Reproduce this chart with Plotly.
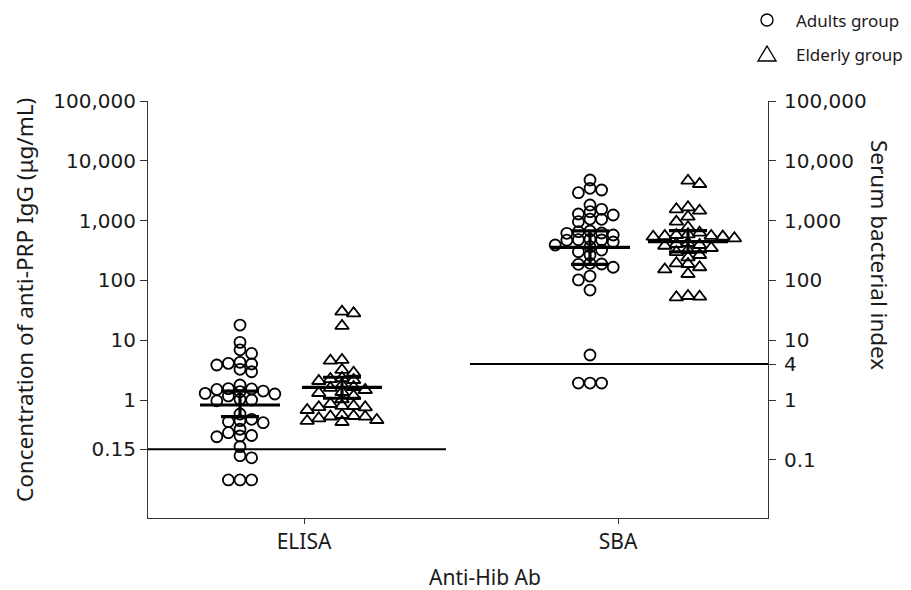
import numpy as np
import plotly.graph_objects as go

# ---------------- data ----------------
methods = ["ELISA", "SBA"]
groups = ["Adults group", "Elderly group"]

elisa_adults = [17.9, 9.2, 6.9, 6.0, 4.1, 3.85, 2.97, 3.26, 4.0, 4.27,
                1.41, 1.29, 1.78, 1.17, 1.53, 1.50, 1.55, 1.26, 1.38, 1.0,
                0.97, 1.03, 0.475, 0.583, 0.434, 0.417, 0.451, 0.324, 0.25,
                0.243, 0.255, 0.284, 0.166, 0.117, 0.108, 0.046, 0.046, 0.046]
elisa_elderly = [30.0, 28.2, 17.3, 4.67, 4.54, 3.18, 2.86, 2.33, 2.24, 2.16,
                 2.08, 1.78, 1.65, 1.59, 1.47, 1.36, 1.31, 1.17, 1.03, 0.857,
                 0.794, 0.80, 0.755, 0.76, 0.68, 0.561, 0.54, 0.526, 0.53,
                 0.494, 0.463, 0.446, 0.429]
sba_adults = [4775, 3250, 2930, 3470, 1824, 1241, 1052, 960, 1060, 1289,
              1409, 1545, 613, 652, 620, 574, 670, 474, 487, 480, 366, 302,
              391, 470, 439, 322, 266, 193, 188, 166, 186, 102, 118, 69,
              5.66, 1.92, 1.92, 1.92]
sba_elderly = [4093, 4645, 1465, 1669, 1545, 1162, 960, 773, 628, 574, 552,
               538, 506, 540, 555, 590, 391, 406, 243, 266, 188, 153, 128,
               166, 193, 53.4, 52.2, 54.8, 380, 422, 348, 322, 298]

# geometric mean with 95% CI: ELISA adults, ELISA elderly, SBA adults, SBA elderly
gm_center = [0.825, 1.63, 356, 444]
ci_low = [0.526, 1.07, 186, 301]
ci_high = [1.41, 2.4, 673, 679]

thresholds = [0.15, 4]

left_tickvals = [100000, 10000, 1000, 100, 10, 1, 0.15]
left_ticktext = ["100,000", "10,000", "1,000", "100", "10", "1", "0.15"]
right_tickvals = [100000, 10000, 1000, 100, 10, 4, 1, 0.1]
right_ticktext = ["100,000", "10,000", "1,000", "100", "10", "4", "1", "0.1"]

# ---------------- geometry (page pixels) ----------------
PAGE_W, PAGE_H = 911, 590
OFF = 8                      # default body margin of the html page
W, H = PAGE_W - OFF, PAGE_H - OFF
PLOT_L, PLOT_R, PLOT_T, PLOT_B = 148, 768, 101, 518   # page coords
L, T = PLOT_L - OFF, PLOT_T - OFF
R, B = PAGE_W - PLOT_R, PAGE_H - PLOT_B
PW, PH = PLOT_R - PLOT_L, PLOT_B - PLOT_T
Y_TOP = 5.0
PX_DEC = 59.8
Y_BOT = Y_TOP - PH / PX_DEC
TICK_PX = [304, 618]
PX_UNIT = (TICK_PX[1] - TICK_PX[0])
X_MIN = 1 - (TICK_PX[0] - PLOT_L) / PX_UNIT
X_MAX = 2 + (PLOT_R - TICK_PX[1]) / PX_UNIT
GROUP_PX = [240, 342, 590, 688]
FONT = "Noto Sans"
NUM_FONT = "DejaVu Sans"


def px2x(px):
    return 1 + (px - TICK_PX[0]) / PX_UNIT


def swarm(values, dx_min=11.6, dy_min=6.5):
    ypx = -np.log10(np.asarray(values, dtype=float)) * PX_DEC
    order = np.argsort(ypx, kind="stable")
    placed = []
    xs = np.zeros(len(values))
    flip = 1
    for i in order:
        y = ypx[i]
        cands = [0.0]
        for (px, py) in placed:
            if abs(py - y) < dy_min:
                cands += [px - dx_min, px + dx_min]
        cands.sort(key=lambda c: (round(abs(c), 3), -flip * c))
        for c in cands:
            if all(not (abs(c - px) < dx_min - 1e-6 and abs(y - py) < dy_min)
                   for px, py in placed):
                xs[i] = c
                break
        if xs[i] != 0:
            flip = -flip
        placed.append((xs[i], y))
    return xs / PX_UNIT


fig = go.Figure()

series = [(elisa_adults, "circle-open", 11),
          (elisa_elderly, "triangle-up-open", 12),
          (sba_adults, "circle-open", 11),
          (sba_elderly, "triangle-up-open", 12)]
centers = [px2x(p) for p in GROUP_PX]

for (vals, sym, sz), cx in zip(series, centers):
    xs = cx + swarm(vals)
    fig.add_trace(go.Scatter(
        x=xs, y=vals, mode="markers", showlegend=False,
        marker=dict(symbol=sym, size=sz, color="black", line=dict(width=1.8, color="black")),
        hoverinfo="skip"))

# mean and CI bars
hw = 40 / PX_UNIT
cw = 19 / PX_UNIT
bx, by = [], []
for cx, m, lo, hi in zip(centers, gm_center, ci_low, ci_high):
    bx += [cx - hw, cx + hw, None, cx, cx, None, cx - cw, cx + cw, None, cx - cw, cx + cw, None]
    by += [m, m, None, lo, hi, None, lo, lo, None, hi, hi, None]
fig.add_trace(go.Scatter(x=bx, y=by, mode="lines", line=dict(color="black", width=3.2),
                         showlegend=False, hoverinfo="skip"))

# threshold lines
fig.add_trace(go.Scatter(x=[X_MIN, px2x(446)], y=[thresholds[0]] * 2, mode="lines",
                         line=dict(color="black", width=1.8), showlegend=False, hoverinfo="skip"))
fig.add_trace(go.Scatter(x=[px2x(470), X_MAX], y=[thresholds[1]] * 2, mode="lines",
                         line=dict(color="black", width=2.2), showlegend=False, hoverinfo="skip",
                         yaxis="y2"))

tick_font = dict(family=NUM_FONT, size=20, color="#1a1a1a")
common_y = dict(type="log", range=[Y_BOT, Y_TOP], showgrid=False, zeroline=False,
                showline=True, linecolor="#333", linewidth=1, ticks="outside",
                ticklen=7, tickcolor="#333", tickwidth=1, tickfont=tick_font)

fig.update_layout(
    width=W, height=H, margin=dict(l=L, r=R, t=T, b=B),
    paper_bgcolor="white", plot_bgcolor="white",
    font=dict(family=FONT, size=20, color="#1a1a1a"),
    xaxis=dict(range=[X_MIN, X_MAX], tickvals=[1, 2], ticktext=methods,
               showgrid=False, zeroline=False, showline=True, linecolor="#333",
               linewidth=1, ticks="outside", ticklen=5, tickcolor="#333",
               tickfont=dict(family=FONT, size=21, color="#1a1a1a")),
    yaxis=dict(tickvals=left_tickvals, ticktext=left_ticktext, **common_y),
    yaxis2=dict(tickvals=right_tickvals, ticktext=right_ticktext, overlaying="y",
                side="right", ticklabelstandoff=4, **common_y),
    showlegend=False,
)


def px2paper(px, py):
    return (px - PLOT_L) / PW, (PLOT_B - py) / PH


annots = []
x, y = px2paper(24, 300)
annots.append(dict(text="Concentration of anti-PRP IgG (μg/mL)", x=x, y=y, textangle=-90, size=22.5))
x, y = px2paper(880, 255)
annots.append(dict(text="Serum bacterial index", x=x, y=y, textangle=90, size=22.5))
x, y = px2paper(485, 577)
annots.append(dict(text="Anti-Hib Ab", x=x, y=y, size=21))
LEG_Y = [20, 54]
for label, py in zip(groups, LEG_Y):
    x, y = px2paper(795, py)
    annots.append(dict(text=label, x=x, y=y, xanchor="left", size=17, borderpad=0))
for a in annots:
    size = a.pop("size")
    a.update(xref="paper", yref="paper", showarrow=False,
             font=dict(family=FONT, size=size, color="#1a1a1a"))
    a.setdefault("xanchor", "center")
    a.setdefault("yanchor", "middle")
fig.update_layout(annotations=annots)

# legend glyphs
cx0, cy0 = px2paper(761, LEG_Y[0] - 6)
cx1, cy1 = px2paper(773, LEG_Y[0] + 6)
shapes = [dict(type="circle", xref="paper", yref="paper", x0=cx0, x1=cx1, y0=cy0, y1=cy1,
               line=dict(color="black", width=1.4))]
p1 = px2paper(758, LEG_Y[1] + 7)
p2 = px2paper(776, LEG_Y[1] + 7)
p3 = px2paper(767, LEG_Y[1] - 8)
shapes.append(dict(type="path", xref="paper", yref="paper",
                   path=f"M {p1[0]} {p1[1]} L {p2[0]} {p2[1]} L {p3[0]} {p3[1]} Z",
                   line=dict(color="black", width=1.4)))
fig.update_layout(shapes=shapes)

fig.write_html("out.html")
